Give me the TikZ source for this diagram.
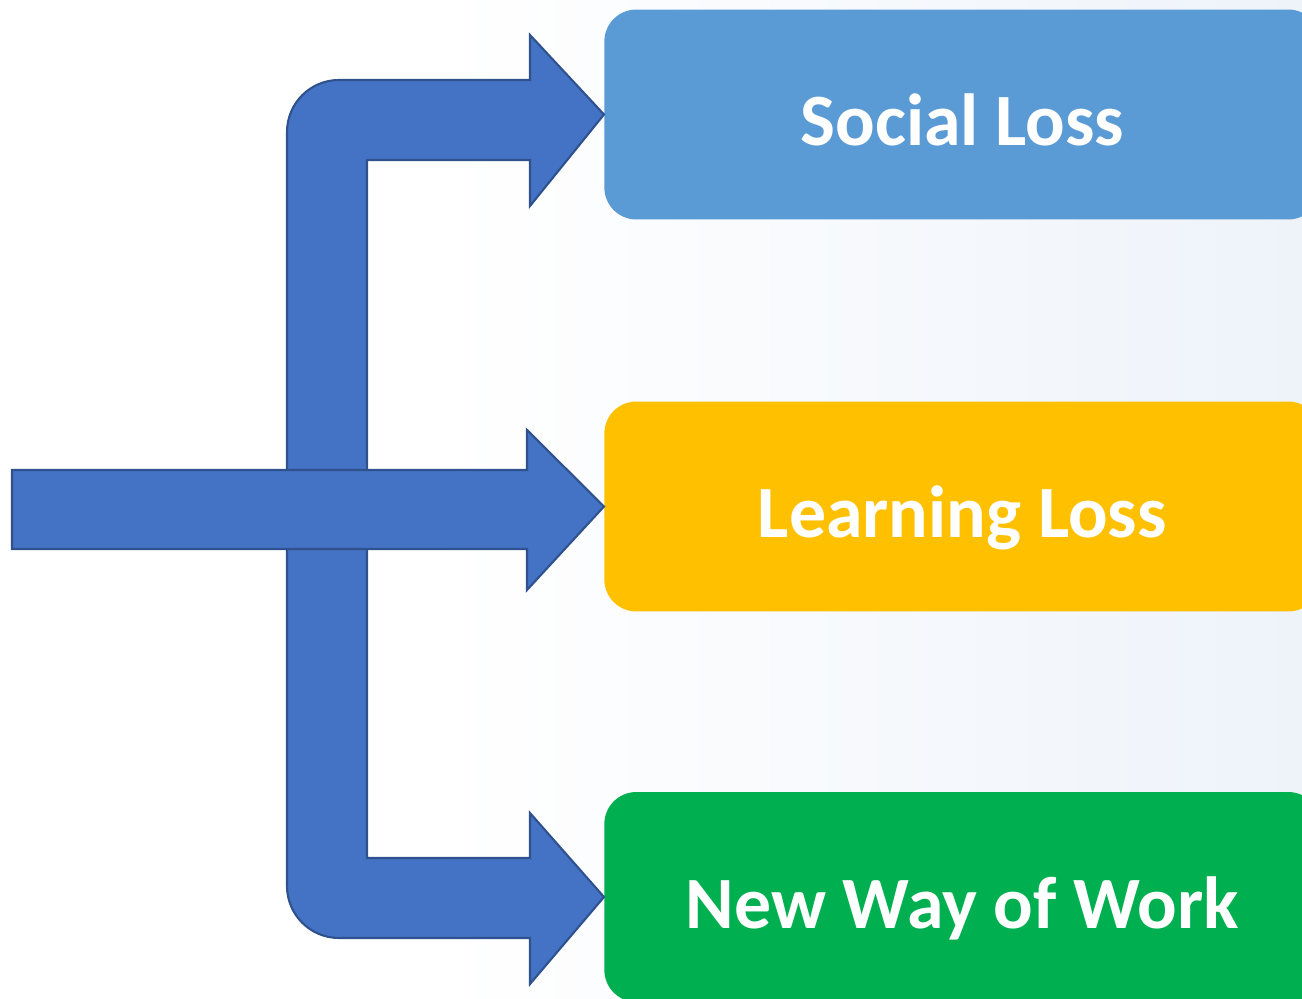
\documentclass[tikz,border=0pt]{standalone}
\usepackage{fontspec}
\setsansfont{Carlito}
\definecolor{arrowblue}{HTML}{4472C4}
\definecolor{arrowline}{HTML}{2F528F}
\definecolor{socialblue}{HTML}{5B9BD5}
\definecolor{learnyellow}{HTML}{FFC000}
\definecolor{workgreen}{HTML}{00B050}
\definecolor{bgblue}{HTML}{EEF3FA}
\begin{document}
\begin{tikzpicture}[x=0.02cm,y=-0.02cm,
    box/.style={rectangle,rounded corners=0.64cm,anchor=west,minimum width=14.32cm,minimum height=4.2cm,text height=1.56cm,text depth=0.3cm,text=white,font=\sffamily\bfseries\fontsize{42}{48}\selectfont},
    block arrow/.style={fill=arrowblue,draw=arrowline,line width=1.2pt,line join=miter}]
    \useasboundingbox (0,0) rectangle (1302,999);
    \clip (0,0) rectangle (1302,999);
    \shade[left color=white,right color=bgblue] (450,0) rectangle (1302,999);

    \node[box,fill=socialblue] at (604,114.5) (social) {Social Loss};
    \node[box,fill=learnyellow] at (604,506.5) (learning) {Learning Loss};
    \node[box,fill=workgreen] at (604,897) (work) {New Way of Work};

    % split arrow up and down
    \draw[block arrow] (367,160) -- (530,160) -- (530,206) -- (social.west) -- (530,35) -- (530,80) -- (339,80)
        arc[start angle=90,end angle=180,radius=1.04cm] -- (287,886)
        arc[start angle=180,end angle=270,radius=1.04cm] -- (530,938) -- (530,984) -- (work.west)
        -- (530,813) -- (530,858) -- (367,858) -- cycle;
    % straight arrow
    \draw[block arrow] (12,470) -- (527,470) -- (527,430) -- (learning.west) -- (527,590) -- (527,549) -- (12,549) -- cycle;
\end{tikzpicture}
\end{document}
